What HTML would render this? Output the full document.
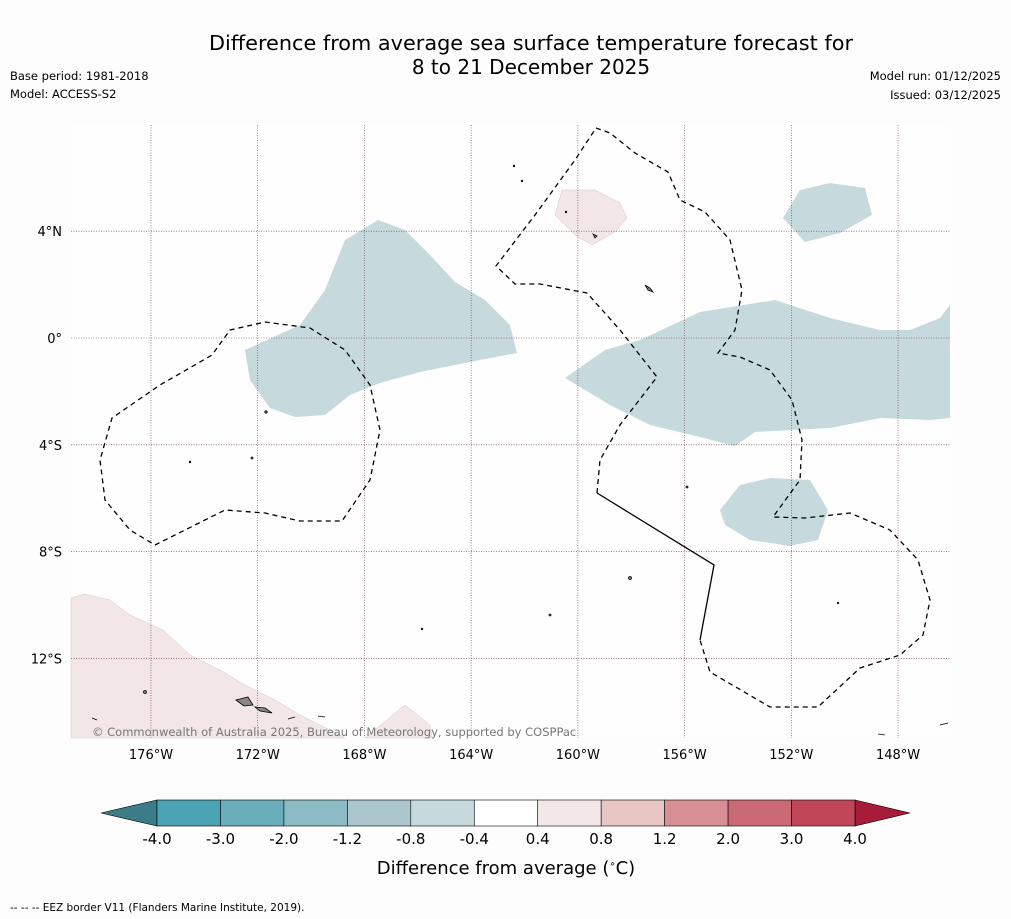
<!DOCTYPE html>
<html><head><meta charset="utf-8"><style>
body{margin:0;background:#fdfdfd;font-family:"DejaVu Sans","Liberation Sans",sans-serif;}
svg{display:block}
</style></head><body>
<svg id="chart" width="1011" height="919" viewBox="0 0 1011 919" xmlns="http://www.w3.org/2000/svg" font-family="DejaVu Sans, Liberation Sans, sans-serif">
<rect width="1011" height="919" fill="#fdfdfd"/>
<text x="531" y="50" font-size="20" text-anchor="middle" fill="#000" textLength="644" lengthAdjust="spacingAndGlyphs">Difference from average sea surface temperature forecast for</text>
<text x="531" y="74" font-size="20" text-anchor="middle" fill="#000">8 to 21 December 2025</text>
<text x="10" y="80" font-size="11.5">Base period: 1981-2018</text>
<text x="10" y="98" font-size="11.5">Model: ACCESS-S2</text>
<text x="1001" y="80" font-size="11.5" text-anchor="end">Model run: 01/12/2025</text>
<text x="1001" y="99" font-size="11.5" text-anchor="end">Issued: 03/12/2025</text>
<g id="map">
<rect x="71" y="125" width="879" height="613" fill="#fefefe"/>
<g fill="#c6d9dd">
<path d="M245,350 L300,325 325,290 345,240 378,220 405,230 430,255 455,282 485,300 510,325 517,353 480,360 420,372 380,383 350,395 325,415 295,417 270,408 250,380Z"/>
<path d="M565,378 L605,350 640,340 700,312 775,300 830,318 880,330 910,330 940,318 950,305 950,418 930,420 880,418 830,428 790,430 755,432 735,446 700,437 650,425 610,405Z"/>
<path d="M720,510 L740,485 770,478 810,480 828,510 818,540 790,546 750,540 725,525Z"/>
<path d="M783,218 L800,190 830,183 865,188 872,215 840,233 805,242Z"/>
</g>
<g fill="#f2e6e6" stroke="#d8c8c8" stroke-width="0.5">
<path d="M555,215 L562,190 595,190 620,203 627,218 615,232 592,245 575,235Z"/>
<path d="M71,598 L85,594 110,600 130,615 163,630 190,655 220,670 245,685 275,700 300,715 320,725 345,738 71,738Z"/>
<path d="M365,738 L405,705 430,725 432,738Z"/>
</g>
<g id="grid" stroke="#6a3444" stroke-width="0.6" stroke-dasharray="1,1.5"></g>
<g fill="none" stroke="#000" stroke-width="1.3">
<path stroke-dasharray="5,4" d="M155,545 L225,510 265,513 300,521 342,521 370,480 380,430 370,385 345,350 310,328 265,322 230,330 212,355 160,385 112,418 100,460 105,500 130,530 155,545"/>
<path stroke-dasharray="5,4" d="M597,493 L600,460 620,425 657,377 620,330 587,293 540,284 515,284 496,266 535,215 575,160 596,128 610,133 635,153 668,172 680,200 705,212 730,240 742,290 735,330 718,353 740,357 770,370 792,400 802,440 800,480 773,517 805,518 850,513 890,530 918,560 930,600 923,635 900,655 860,668 818,707 770,707 710,672 700,640"/>
<path d="M597,493 L714,565 700,640"/>
</g>
<g fill="#888" stroke="#000" stroke-width="0.8">
<path d="M236,700 L248,697 253,705 244,706Z"/><path d="M255,707 L265,708 272,713 260,711Z"/>
<path d="M645,285 L650,288 653,292 648,290Z"/><path d="M593,234 L597,236 595,238Z"/>
<path d="M92,718 L97,720" /><path d="M288,719 L295,717"/><path d="M318,716 L325,717"/>
<circle cx="145" cy="692" r="1.5"/><circle cx="266" cy="412" r="1.2"/><circle cx="252" cy="458" r="1"/>
<circle cx="630" cy="578" r="1.5"/><circle cx="550" cy="615" r="1"/><circle cx="687" cy="487" r="1"/>
<circle cx="566" cy="212" r="0.8"/><circle cx="514" cy="166" r="0.8"/><circle cx="522" cy="181" r="0.8"/>
<circle cx="838" cy="603" r="0.8"/><circle cx="190" cy="462" r="0.8"/><circle cx="422" cy="629" r="0.8"/>
<path d="M878,734 L885,735"/><path d="M940,725 L948,723"/>
</g>
<text x="92" y="736" font-size="11.5" fill="#777">© Commonwealth of Australia 2025, Bureau of Meteorology, supported by COSPPac</text>
</g>
<g id="axes"></g>
<g id="colorbar"></g>
<text x="506" y="874" font-size="18" text-anchor="middle">Difference from average (<tspan font-size="10" dy="-7">∘</tspan><tspan dy="7">C)</tspan></text>
<text x="10" y="911" font-size="10.5">--  --  -- EEZ border V11 (Flanders Marine Institute, 2019).</text>
</svg>
<script>
const lonTicks=[-176,-172,-168,-164,-160,-156,-152,-148];
const latTicks=[4,0,-4,-8,-12];
const cbLevels=[-4.0,-3.0,-2.0,-1.2,-0.8,-0.4,0.4,0.8,1.2,2.0,3.0,4.0];
const cbColors=["#4ba3b3","#6baebb","#8cbac5","#abc6cc","#c6d9dd","#ffffff","#f3e7e7","#e8c6c3","#d78e95","#cb6a75","#c04657"];
(function(){
const NS="http://www.w3.org/2000/svg";
const xLon=l=>151+(l+176)*26.68;
const yLat=l=>338-l*26.7;
function mk(t,a,p){const e=document.createElementNS(NS,t);for(const k in a)e.setAttribute(k,a[k]);p.appendChild(e);return e;}
const grid=document.getElementById('grid'),axes=document.getElementById('axes');
lonTicks.forEach(l=>{const x=xLon(l);
const ln=mk('line',{x1:x,x2:x,y1:125,y2:738},grid);


const t=mk('text',{x:x,y:759,'font-size':13,'text-anchor':'middle'},axes);t.textContent=Math.abs(l)+'°W';

});
latTicks.forEach(l=>{const y=yLat(l);
const ln=mk('line',{x1:71,x2:950,y1:y,y2:y},grid);


const t=mk('text',{x:62,y:y+5,'font-size':13,'text-anchor':'end'},axes);t.textContent=l===0?'0°':Math.abs(l)+'°'+(l>0?'N':'S');

});
const cb=document.getElementById('colorbar');
const x0=157,x1=855,n=cbColors.length,w=(x1-x0)/n,yT=800,yB=826;
const la=mk('polygon',{points:`${x0},${yT} ${x0},${yB} 101,813`,fill:'#3a7d88',stroke:'#000','stroke-width':0.6},cb);


const ra=mk('polygon',{points:`${x1},${yT} ${x1},${yB} 910,813`,fill:'#a81c3a',stroke:'#000','stroke-width':0.6},cb);


cbColors.forEach((c,i)=>{const r=mk('rect',{x:x0+i*w,y:yT,width:w,height:yB-yT,fill:c,stroke:'#000','stroke-width':0.6},cb);

});
cbLevels.forEach((v,i)=>{const t=mk('text',{x:x0+i*w,y:844,'font-size':15,'text-anchor':'middle'},cb);t.textContent=v.toFixed(1);

});
})();
</script>
</body></html>
